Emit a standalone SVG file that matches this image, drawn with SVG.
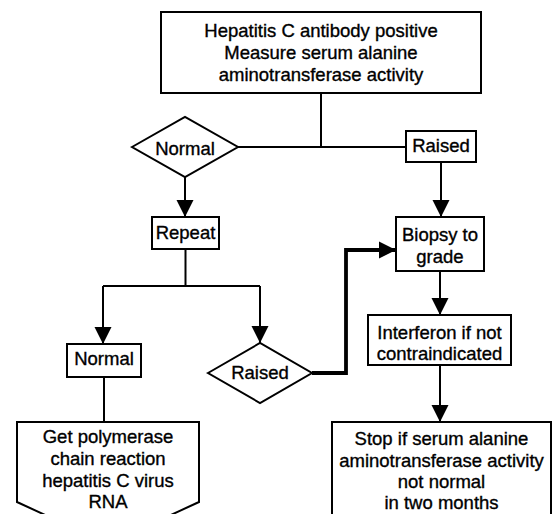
<svg xmlns="http://www.w3.org/2000/svg" width="557" height="514" viewBox="0 0 557 514">
<defs>
<style>
.box{fill:#fff;stroke:#000;stroke-width:2}
.t{font-family:"Liberation Sans",Arial,sans-serif;font-size:18.5px;fill:#000;stroke:#000;stroke-width:0.35;text-anchor:middle}
.c{fill:none;stroke:#000;stroke-width:2}
.thick{fill:none;stroke:#000;stroke-width:3.8}
</style>
<marker id="ah" viewBox="0 0 18 18" refX="17" refY="9" markerWidth="18" markerHeight="18" markerUnits="userSpaceOnUse" orient="auto">
<path d="M0,0.5 L17,9 L0,17.5 z" fill="#000"/>
</marker>
</defs>
<rect width="557" height="514" fill="#fff"/>
<g id="connectors">
<path class="c" d="M321,93 V147"/>
<path class="c" d="M238,147 H406"/>
<path class="c" d="M185,177 V217" marker-end="url(#ah)"/>
<path class="c" d="M441,162 V217" marker-end="url(#ah)"/>
<path class="c" d="M185.5,249 V286"/>
<path class="c" d="M103,286 H260"/>
<path class="c" d="M103,286 V344" marker-end="url(#ah)"/>
<path class="c" d="M260,286 V343" marker-end="url(#ah)"/>
<path class="thick" d="M312,373 H346 V250 H396" marker-end="url(#ah)"/>
<path class="c" d="M104,377 V422"/>
<path class="c" d="M440,271 V315" marker-end="url(#ah)"/>
<path class="c" d="M440,365 V422" marker-end="url(#ah)"/>
</g>
<g id="start">
<rect class="box" x="161" y="12" width="320" height="81"/>
<text class="t" x="321" y="37">Hepatitis C antibody positive</text>
<text class="t" x="321" y="59">Measure serum alanine</text>
<text class="t" x="321" y="81">aminotransferase activity</text>
</g>
<g id="normal1">
<polygon class="box" points="132,147 185,117 238,147 185,177"/>
<text class="t" x="185" y="155">Normal</text>
</g>
<g id="raised1">
<rect class="box" x="406" y="131" width="70" height="31"/>
<text class="t" x="441" y="152">Raised</text>
</g>
<g id="repeat">
<rect class="box" x="152" y="217" width="67" height="32"/>
<text class="t" x="185.5" y="239">Repeat</text>
</g>
<g id="biopsy">
<rect class="box" x="396" y="217" width="88" height="54"/>
<text class="t" x="440" y="241">Biopsy to</text>
<text class="t" x="440" y="263">grade</text>
</g>
<g id="normal2">
<rect class="box" x="67" y="344" width="74" height="33"/>
<text class="t" x="104" y="365">Normal</text>
</g>
<g id="raised2">
<polygon class="box" points="208,373 260,343 312,373 260,403"/>
<text class="t" x="260" y="379">Raised</text>
</g>
<g id="interferon">
<rect class="box" x="368" y="315" width="143" height="50"/>
<text class="t" x="439.5" y="339">Interferon if not</text>
<text class="t" x="439.5" y="360">contraindicated</text>
</g>
<g id="pcr">
<polygon class="box" points="17,422 199,422 199,502 108,544 17,502"/>
<text class="t" x="108" y="443">Get polymerase</text>
<text class="t" x="108" y="465">chain reaction</text>
<text class="t" x="108" y="487">hepatitis C virus</text>
<text class="t" x="108" y="508">RNA</text>
</g>
<g id="stop">
<rect class="box" x="332" y="422" width="219" height="100"/>
<text class="t" x="441.5" y="445">Stop if serum alanine</text>
<text class="t" x="441.5" y="467">aminotransferase activity</text>
<text class="t" x="441.5" y="488">not normal</text>
<text class="t" x="441.5" y="509">in two months</text>
</g>
</svg>
